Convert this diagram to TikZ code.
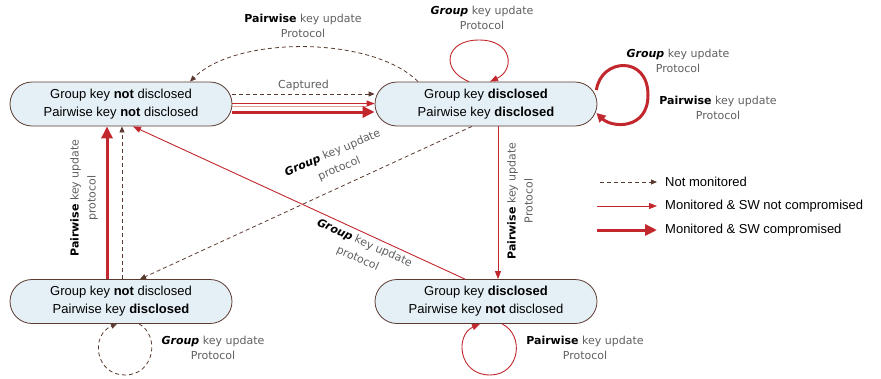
\documentclass[tikz,border=0pt]{standalone}
\usepackage{fontspec}
\setmainfont{Liberation Sans}
\newfontfamily\lblfont{DejaVu Sans}
\usetikzlibrary{arrows.meta}
\definecolor{myred}{RGB}{193,39,45}
\definecolor{mybrown}{RGB}{91,58,48}
\definecolor{myfill}{RGB}{229,240,246}
\definecolor{mygray}{RGB}{95,95,95}
\tikzset{
  state/.style={draw=mybrown, line width=0.8pt, fill=myfill, rounded corners=22pt,
    minimum width=222pt, minimum height=44pt, align=center, inner sep=0pt,
    font=\fontsize{13}{18}\selectfont},
  nm/.style={draw=mybrown, line width=0.8pt, dash pattern=on 4pt off 3pt,
    -{Triangle[length=6pt,width=5pt]}},
  mon/.style={draw=myred, line width=0.9pt, -{Triangle[length=8pt,width=6pt]}},
  comp/.style={draw=myred, line width=3pt, -{Triangle[length=12pt,width=11pt]}},
  lbl/.style={font=\lblfont\fontsize{11}{15}\selectfont, text=mygray, align=center, inner sep=1pt},
  rlbl/.style={lbl, font=\lblfont\fontsize{11}{17}\selectfont},
  leg/.style={font=\fontsize{13}{16}\selectfont, anchor=west, inner sep=2pt}
}
\newcommand{\kw}[1]{\textcolor{black}{\bfseries #1}}
\newcommand{\kwi}[1]{\textcolor{black}{\bfseries\itshape #1}}
\begin{document}
\begin{tikzpicture}[x=1pt,y=-1pt]
\useasboundingbox (0,0) rectangle (881,378);
% states
\node[state] (A) at (121,104) {Group key \textbf{not} disclosed\\Pairwise key \textbf{not} disclosed};
\node[state] (B) at (486,104) {Group key \textbf{disclosed}\\Pairwise key \textbf{disclosed}};
\node[state] (C) at (121,301.5) {Group key \textbf{not} disclosed\\Pairwise key \textbf{disclosed}};
\node[state] (D) at (486,301.5) {Group key \textbf{disclosed}\\Pairwise key \textbf{not} disclosed};

% A -> B
\draw[nm] ([yshift=10pt]A.east) -- node[lbl, above=2pt] (cap) {Captured} ([yshift=10pt]B.west);
\draw[myred!45, line width=0.8pt] ([yshift=-2.5pt]A.east) -- ([yshift=-2.5pt,xshift=-8pt]B.west);
\draw[mon] ([yshift=0.5pt]A.east) -- ([yshift=0.5pt]B.west);
\draw[comp] ([yshift=-8pt]A.east) -- ([yshift=-8pt]B.west);

% B -> A curved
\draw[nm] ([xshift=-68pt]B.north) .. controls +(-46,-46) and +(46,-46) .. ([xshift=69pt]A.north);
\node[lbl] (lBA) at (303,26) {\kw{Pairwise} key update\\Protocol};

% B top loop
\draw[mon] ([xshift=-17pt]B.north) .. controls (440,70) and (445,40) .. (479,40)
  .. controls (513,40) and (515,70) .. ([xshift=4pt]B.north);
\node[lbl] (lBt) at (482,18) {\kwi{Group} key update\\Protocol};

% B right loop
\draw[comp, -{Triangle[length=9pt,width=9pt]}] ([yshift=14pt,xshift=-1pt]B.east) .. controls (601,58) and (648,55) .. (648,95)
  .. controls (648,130) and (612,128) .. ([yshift=-9pt,xshift=-1pt]B.east);
\node[lbl] (lBr1) at (678,61) {\kwi{Group} key update\\Protocol};
\node[lbl] (lBr2) at (718,108) {\kw{Pairwise} key update\\Protocol};

% B -> D
\draw[mon] ([xshift=12pt]B.south) -- ([xshift=12pt]D.north);
\node[rlbl, rotate=90] (lBD) at (520,201) {\kw{Pairwise} key update\\Protocol};

% B -> C
\draw[nm] ([xshift=-14pt]B.south) -- ([xshift=19pt]C.north);
\node[rlbl, rotate=23] (lBC) at (336,161) {\kwi{Group} key update\\protocol};

% D -> A
\draw[mon] ([xshift=-21pt]D.north) -- ([xshift=12pt]A.south);
\node[rlbl, rotate=-24] (lDA) at (361,251) {\kwi{Group} key update\\protocol};

% C -> A
\draw[comp] ([xshift=-14pt]C.north) -- ([xshift=-14pt]A.south);
\draw[nm] ([xshift=1pt]C.north) -- ([xshift=1pt]A.south);
\node[rlbl, rotate=90] (lCA) at (84,198) {\kw{Pairwise} key update\\protocol};

% C loop
\draw[nm] ([xshift=18pt]C.south) .. controls (160,335) and (155,375) .. (125,375)
  .. controls (95,375) and (90,335) .. ([xshift=-4pt]C.south);
\node[lbl] (lC) at (213,348) {\kwi{Group} key update\\Protocol};

% D loop
\draw[mon] ([xshift=16pt]D.south) .. controls (525,335) and (520,375) .. (490,375)
  .. controls (458,375) and (455,335) .. ([xshift=-6pt]D.south);
\node[lbl] (lD) at (585,348) {\kw{Pairwise} key update\\Protocol};

% legend
\node[leg] (t1) at (663,182) {Not monitored};
\node[leg] (t2) at (663,206) {Monitored \& SW not compromised};
\node[leg] (t3) at (663,230) {Monitored \& SW compromised};
\coordinate (s1) at (600,182);
\coordinate (s2) at (597,206);
\coordinate (s3) at (597,230);
\draw[nm] (s1) -- ([xshift=-6pt]t1.west);
\draw[mon] (s2) -- ([xshift=-6pt]t2.west);
\draw[comp] (s3) -- ([xshift=-6pt]t3.west);
\end{tikzpicture}
\end{document}
